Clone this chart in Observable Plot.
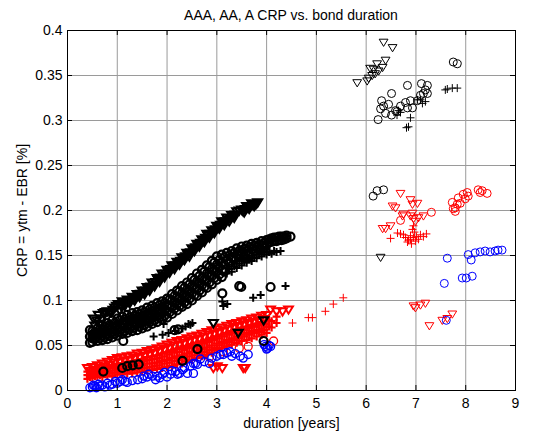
<!DOCTYPE html>
<html><head><meta charset="utf-8">
<script src="https://cdn.jsdelivr.net/npm/d3@7"></script>
<script src="https://cdn.jsdelivr.net/npm/@observablehq/plot@0.6"></script>
<style>
html,body{margin:0;padding:0;background:#fff;}
#wrap{position:relative;width:534px;height:434px;font-family:"Liberation Sans",Arial,sans-serif;color:#000;}
#title{position:absolute;left:48px;right:0;top:0;height:30px;line-height:30px;font-size:14px;text-align:center;white-space:nowrap;z-index:2;}
</style></head>
<body><div id="wrap"><div id="title"></div><div id="chart"></div></div>
<script>
const titleText = "AAA, AA, A CRP vs. bond duration";
const xLabel = "duration [years]";
const yLabel = "CRP = ytm - EBR [%]";
const xTicks = [0,1,2,3,4,5,6,7,8,9];
const yTicks = [0,0.05,0.1,0.15,0.2,0.25,0.3,0.35,0.4];
const yTickLabels = ["0","0.05","0.1","0.15","0.2","0.25","0.3","0.35","0.4"];

// AAA (black) triangles
const aaaTri = [[0.52,0.080],[0.55,0.072],[0.62,0.084],[0.66,0.074],[0.72,0.086],[0.80,0.088],[0.88,0.087],[0.95,0.092],[1.02,0.096],[1.05,0.089],[1.10,0.099],[1.15,0.094],[1.20,0.101],[1.25,0.097],[1.30,0.104],[1.35,0.100],[1.40,0.107],[1.45,0.104],[1.50,0.111],[1.55,0.107],[1.60,0.115],[1.65,0.111],[1.70,0.120],[1.75,0.116],[1.80,0.125],[1.85,0.121],[1.90,0.130],[1.95,0.126],[2.00,0.134],[2.05,0.131],[2.10,0.139],[2.15,0.135],[2.20,0.143],[2.25,0.140],[2.30,0.148],[2.35,0.145],[2.40,0.153],[2.45,0.149],[2.50,0.158],[2.55,0.155],[2.60,0.163],[2.65,0.160],[2.70,0.168],[2.75,0.165],[2.80,0.174],[2.85,0.170],[2.90,0.178],[2.95,0.175],[3.00,0.183],[3.05,0.180],[3.10,0.188],[3.15,0.184],[3.20,0.192],[3.25,0.188],[3.30,0.195],[3.35,0.192],[3.40,0.199],[3.50,0.201],[3.55,0.198],[3.60,0.205],[3.65,0.202],[3.70,0.208],[3.75,0.205],[3.82,0.209],
[0.59,0.078],[0.69,0.080],[0.76,0.087],[0.84,0.0875],[0.915,0.0895],[0.985,0.094],[1.075,0.094],[1.125,0.0965],[1.175,0.0975],[1.225,0.099],[1.275,0.1005],[1.325,0.102],[1.375,0.1035],[1.425,0.1055],[1.475,0.1075],[1.525,0.109],[1.575,0.111],[1.625,0.113],[1.675,0.1155],[1.725,0.118],[1.775,0.1205],[1.825,0.123],[1.875,0.1255],[1.925,0.128],[1.975,0.130],[2.025,0.1325],[2.075,0.135],[2.125,0.137],[2.175,0.139],[2.225,0.1415],[2.275,0.144],[2.325,0.1465],[2.375,0.149],[2.425,0.151],[2.475,0.1535],[2.525,0.1565],[2.575,0.159],[2.625,0.1615],[2.675,0.164],[2.725,0.1665],[2.775,0.1695],[2.825,0.172],[2.875,0.174],[2.925,0.1765],[2.975,0.179],[3.025,0.1815],[3.075,0.184],[3.125,0.186],[3.175,0.188],[3.225,0.190],[3.275,0.1915],[3.325,0.1935],[3.375,0.1955],[3.45,0.200],[3.525,0.1995],[3.575,0.2015],[3.625,0.2035],[3.675,0.205],[3.725,0.2065],[3.785,0.207],
[2.93,0.075],[3.43,0.064],[3.94,0.078],[6.29,0.148],
[6.35,0.387],[6.53,0.381],[6.39,0.367],[6.33,0.359],[6.22,0.363],[6.08,0.358],[6.18,0.352],[6.12,0.350],[6.02,0.344],[5.82,0.342],[6.25,0.355],[6.15,0.357],[6.05,0.347]];

// AAA (black) circles
const aaaCirc = [[0.45,0.053],[0.45,0.060],[0.45,0.067],
[0.5,0.054],[0.5,0.058],[0.5,0.062],[0.5,0.066],[0.6,0.055],[0.6,0.060],[0.6,0.064],[0.6,0.069],[0.7,0.056],[0.7,0.061],[0.7,0.067],[0.7,0.072],[0.8,0.057],[0.8,0.063],[0.8,0.069],[0.8,0.075],[0.9,0.059],[0.9,0.065],[0.9,0.071],[0.9,0.078],
[1.0,0.061],[1.0,0.067],[1.0,0.073],[1.0,0.080],[1.1,0.063],[1.1,0.069],[1.1,0.075],[1.1,0.082],[1.2,0.064],[1.2,0.070],[1.2,0.077],[1.2,0.084],[1.3,0.066],[1.3,0.072],[1.3,0.079],[1.3,0.086],[1.4,0.067],[1.4,0.074],[1.4,0.081],[1.4,0.087],
[1.5,0.069],[1.5,0.076],[1.5,0.083],[1.5,0.089],[1.6,0.071],[1.6,0.078],[1.6,0.085],[1.6,0.092],[1.7,0.074],[1.7,0.081],[1.7,0.088],[1.7,0.094],[1.8,0.076],[1.8,0.083],[1.8,0.090],[1.8,0.097],[1.9,0.079],[1.9,0.086],[1.9,0.093],[1.9,0.099],
[2.0,0.081],[2.0,0.088],[2.0,0.095],[2.0,0.102],[2.1,0.085],[2.1,0.093],[2.1,0.100],[2.1,0.107],[2.2,0.089],[2.2,0.096],[2.2,0.104],[2.2,0.111],[2.3,0.093],[2.3,0.100],[2.3,0.108],[2.3,0.116],[2.4,0.096],[2.4,0.104],[2.4,0.112],[2.4,0.120],
[2.5,0.100],[2.5,0.108],[2.5,0.116],[2.5,0.125],[2.6,0.105],[2.6,0.113],[2.6,0.121],[2.6,0.130],[2.7,0.109],[2.7,0.117],[2.7,0.125],[2.7,0.134],[2.8,0.114],[2.8,0.122],[2.8,0.130],[2.8,0.139],[2.9,0.118],[2.9,0.127],[2.9,0.135],[2.9,0.144],
[3.0,0.123],[3.0,0.132],[3.0,0.140],[3.0,0.149],[3.1,0.126],[3.1,0.134],[3.1,0.142],[3.1,0.151],[3.2,0.145],[3.2,0.153],[3.3,0.148],[3.3,0.155],[3.4,0.151],[3.4,0.158],[3.5,0.153],[3.5,0.160],[3.6,0.155],[3.6,0.161],[3.7,0.157],[3.7,0.163],[3.8,0.159],[3.8,0.164],[3.9,0.161],[3.9,0.166],
[4.0,0.162],[4.0,0.167],[4.1,0.165],[4.1,0.169],[4.2,0.166],[4.2,0.170],[4.3,0.167],[4.3,0.171],[4.4,0.169],[4.4,0.172],[4.48,0.171],
[0.55,0.057],[0.55,0.061],[0.55,0.065],[0.65,0.058],[0.65,0.063],[0.65,0.068],[0.75,0.059],[0.75,0.065],[0.75,0.071],[0.85,0.061],[0.85,0.067],[0.85,0.073],[0.95,0.063],[0.95,0.069],[0.95,0.075],
[1.05,0.065],[1.05,0.071],[1.05,0.078],[1.15,0.066],[1.15,0.073],[1.15,0.079],[1.25,0.068],[1.25,0.074],[1.25,0.081],[1.35,0.070],[1.35,0.076],[1.35,0.083],[1.45,0.071],[1.45,0.078],[1.45,0.085],
[1.55,0.073],[1.55,0.080],[1.55,0.087],[1.65,0.076],[1.65,0.083],[1.65,0.090],[1.75,0.078],[1.75,0.085],[1.75,0.092],[1.85,0.081],[1.85,0.088],[1.85,0.095],[1.95,0.083],[1.95,0.090],[1.95,0.097],
[2.05,0.087],[2.05,0.094],[2.05,0.101],[2.15,0.091],[2.15,0.098],[2.15,0.105],[2.25,0.094],[2.25,0.102],[2.25,0.110],[2.35,0.098],[2.35,0.106],[2.35,0.114],[2.45,0.102],[2.45,0.110],[2.45,0.118],
[2.55,0.106],[2.55,0.114],[2.55,0.123],[2.65,0.111],[2.65,0.119],[2.65,0.127],[2.75,0.115],[2.75,0.123],[2.75,0.132],[2.85,0.120],[2.85,0.128],[2.85,0.137],[2.95,0.125],[2.95,0.133],[2.95,0.142],
[3.05,0.129],[3.05,0.137],[3.05,0.145],[3.15,0.132],[3.15,0.140],[3.15,0.148],[3.25,0.142],[3.25,0.150],[3.35,0.146],[3.35,0.153],[3.45,0.149],[3.45,0.155],[3.55,0.150],[3.55,0.157],[3.65,0.152],[3.65,0.159],[3.75,0.155],[3.75,0.161],[3.85,0.157],[3.85,0.162],[3.95,0.159],[3.95,0.164],
[4.05,0.165],[4.05,0.168],[4.15,0.166],[4.15,0.170],[4.25,0.167],[4.25,0.171],[4.35,0.168],[4.35,0.171],
[1.12,0.055],[2.15,0.067],[2.22,0.068],[3.11,0.108],[3.45,0.116],[3.49,0.115],[4.08,0.115],[0.72,0.021],[1.10,0.025],[1.20,0.027],[1.31,0.028],[1.43,0.029],[2.31,0.033],[2.61,0.046],[3.94,0.055],
[6.14,0.216],[6.22,0.222],[6.35,0.223],
[7.75,0.365],[7.83,0.363],[6.83,0.339],[7.11,0.341],[7.23,0.339],[7.23,0.330],[6.51,0.330],[6.31,0.322],[6.35,0.316],[6.29,0.313],[6.24,0.301],[6.39,0.308],[6.51,0.306],[6.59,0.311],[6.69,0.316],[6.79,0.320],[6.89,0.322],[6.93,0.314],[6.83,0.314],[7.09,0.328],[7.15,0.330],[6.45,0.318],[6.62,0.310],[7.03,0.322],[7.19,0.334]];

// AAA (black) pluses
const aaaPlus = [[3.2,0.130],[3.2,0.137],[3.3,0.132],[3.3,0.140],[3.4,0.136],[3.4,0.144],[3.5,0.139],[3.5,0.146],[3.6,0.142],[3.6,0.148],[3.7,0.144],[3.7,0.150],[3.8,0.147],[3.8,0.153],[3.9,0.149],[3.9,0.155],[4.0,0.151],[4.0,0.157],[4.1,0.152],[4.2,0.154],[4.28,0.155],
[3.25,0.135],[3.35,0.138],[3.45,0.141],[3.55,0.144],[3.65,0.146],[3.75,0.148],[3.85,0.151],[3.95,0.153],[4.05,0.154],[4.15,0.155],
[1.73,0.060],[1.91,0.062],[2.03,0.064],[2.17,0.066],[2.31,0.069],[2.43,0.074],[2.51,0.075],[1.93,0.074],[2.37,0.071],[2.47,0.073],[3.11,0.099],[3.21,0.096],[3.13,0.094],[3.73,0.103],[3.88,0.106],[4.38,0.116],
[6.65,0.311],[6.69,0.309],[6.62,0.306],[6.89,0.303],[6.81,0.292],[6.85,0.293],[7.09,0.323],[7.13,0.319],[7.19,0.321],[7.03,0.323],[7.59,0.334],[7.63,0.335],[7.73,0.336],[7.83,0.336]];

// AA (red) pluses
const aaPlus = [[0.4,0.013],[0.4,0.017],[0.4,0.021],[0.45,0.015],[0.45,0.019],[0.5,0.014],[0.5,0.018],[0.5,0.022],[0.55,0.016],[0.55,0.021],[0.6,0.015],[0.6,0.019],[0.6,0.024],[0.65,0.017],[0.65,0.022],[0.7,0.015],[0.7,0.020],[0.7,0.025],[0.75,0.018],[0.75,0.023],[0.8,0.016],[0.8,0.021],[0.8,0.027],[0.85,0.019],[0.85,0.025],[0.9,0.016],[0.9,0.022],[0.9,0.028],[0.95,0.020],[0.95,0.026],
[1.0,0.018],[1.0,0.024],[1.0,0.030],[1.05,0.021],[1.05,0.027],[1.1,0.018],[1.1,0.024],[1.1,0.030],[1.15,0.022],[1.15,0.028],[1.2,0.019],[1.2,0.025],[1.2,0.032],[1.25,0.022],[1.25,0.029],[1.3,0.019],[1.3,0.026],[1.3,0.033],[1.35,0.023],[1.35,0.030],[1.4,0.020],[1.4,0.027],[1.4,0.034],[1.45,0.024],[1.45,0.031],
[1.5,0.021],[1.5,0.028],[1.5,0.035],[1.55,0.025],[1.55,0.033],[1.6,0.022],[1.6,0.030],[1.6,0.037],[1.65,0.026],[1.65,0.034],[1.7,0.023],[1.7,0.030],[1.7,0.038],[1.75,0.027],[1.75,0.035],[1.8,0.024],[1.8,0.031],[1.8,0.039],[1.85,0.028],[1.85,0.036],[1.9,0.025],[1.9,0.033],[1.9,0.041],[1.95,0.030],[1.95,0.038],
[2.0,0.026],[2.0,0.034],[2.0,0.042],[2.05,0.031],[2.05,0.040],[2.1,0.027],[2.1,0.036],[2.1,0.044],[2.15,0.033],[2.15,0.042],[2.2,0.029],[2.2,0.038],[2.2,0.046],[2.25,0.034],[2.25,0.043],[2.3,0.030],[2.3,0.039],[2.3,0.047],[2.35,0.036],[2.35,0.045],[2.4,0.032],[2.4,0.041],[2.4,0.049],[2.45,0.038],[2.45,0.047],
[2.5,0.034],[2.5,0.043],[2.5,0.051],[2.55,0.039],[2.55,0.048],[2.6,0.036],[2.6,0.044],[2.6,0.052],[2.65,0.041],[2.65,0.050],[2.7,0.038],[2.7,0.046],[2.7,0.054],[2.75,0.043],[2.75,0.052],[2.8,0.040],[2.8,0.048],[2.8,0.056],[2.85,0.045],[2.85,0.054],[2.9,0.042],[2.9,0.050],[2.9,0.058],[2.95,0.047],[2.95,0.056],
[3.0,0.045],[3.0,0.052],[3.0,0.060],[3.05,0.050],[3.05,0.058],[3.1,0.047],[3.1,0.054],[3.1,0.062],[3.15,0.052],[3.15,0.060],[3.2,0.049],[3.2,0.056],[3.2,0.064],[3.25,0.054],[3.25,0.062],[3.3,0.051],[3.3,0.058],[3.3,0.066],[3.35,0.056],[3.35,0.064],[3.4,0.053],[3.4,0.060],[3.4,0.068],[3.45,0.058],[3.45,0.066],
[3.5,0.055],[3.5,0.062],[3.5,0.070],[3.55,0.060],[3.55,0.067],[3.6,0.056],[3.6,0.064],[3.6,0.071],[3.65,0.062],[3.65,0.069],[3.7,0.058],[3.7,0.066],[3.7,0.073],[3.75,0.064],[3.75,0.071],[3.8,0.060],[3.8,0.067],[3.8,0.074],[3.85,0.065],[3.85,0.072],[3.9,0.062],[3.9,0.069],[3.9,0.076],[3.95,0.067],[3.95,0.074],
[4.0,0.064],[4.0,0.071],[4.0,0.078],[4.05,0.071],[4.05,0.078],[4.1,0.070],[4.1,0.077],[4.2,0.075],[4.2,0.082],
[4.52,0.075],[4.84,0.081],[4.92,0.081],[5.18,0.088],[5.34,0.096],[5.54,0.103],
[6.49,0.169],[6.63,0.175],[6.69,0.174],[6.75,0.173],[6.79,0.170],[6.85,0.167],[6.89,0.172],[6.93,0.179],[6.95,0.183],[6.97,0.176],[7.01,0.171],[7.05,0.168],[7.09,0.173],[7.15,0.171],[7.21,0.174],[6.83,0.165],[6.91,0.163],[6.99,0.166],[6.89,0.168],[6.95,0.170]];

// AA (red) triangles
const aaTri = [[0.4,0.025],[0.5,0.026],[0.6,0.028],[0.7,0.030],[0.8,0.032],[0.9,0.034],[1.0,0.036],[1.1,0.037],[1.2,0.038],[1.3,0.039],[1.4,0.041],[1.5,0.042],[1.6,0.044],[1.7,0.045],[1.8,0.047],[1.9,0.049],[2.0,0.051],[2.1,0.053],[2.2,0.055],[2.3,0.056],[2.4,0.058],[2.5,0.060],[2.6,0.061],[2.7,0.063],[2.8,0.065],[2.9,0.067],[3.0,0.068],[3.1,0.070],[3.2,0.072],[3.3,0.074],[3.4,0.075],[3.5,0.077],[3.6,0.078],[3.7,0.080],[3.8,0.081],[3.9,0.083],[4.0,0.084],[4.08,0.090],[4.2,0.088],[4.32,0.088],[4.44,0.090],
[0.45,0.022],[0.55,0.023],[0.65,0.025],[0.75,0.027],[0.85,0.029],[0.95,0.031],[1.05,0.0325],[1.15,0.0335],[1.25,0.0345],[1.35,0.036],[1.45,0.0375],[1.55,0.039],[1.65,0.0405],[1.75,0.042],[1.85,0.044],[1.95,0.046],[2.05,0.048],[2.15,0.050],[2.25,0.0515],[2.35,0.053],[2.45,0.055],[2.55,0.0565],[2.65,0.058],[2.75,0.060],[2.85,0.062],[2.95,0.0635],[3.05,0.065],[3.15,0.067],[3.25,0.069],[3.35,0.0705],[3.45,0.072],[3.55,0.0735],[3.65,0.075],[3.75,0.0765],[3.85,0.078],[3.95,0.0795],
[2.93,0.025],[3.01,0.027],[3.11,0.025],[3.53,0.025],[3.57,0.025],
[6.69,0.219],[6.89,0.212],[7.03,0.208],[6.93,0.207],[6.53,0.205],[6.59,0.203],[6.73,0.194],[6.75,0.196],[6.93,0.197],[6.89,0.194],[6.95,0.191],[6.99,0.188],[7.05,0.192],[7.15,0.194],[6.33,0.180],[6.39,0.180],[6.49,0.183],
[6.99,0.092],[7.09,0.095],[7.19,0.097],[6.95,0.094],[7.27,0.072],[7.53,0.078],[7.63,0.080],[7.73,0.085]];

// AA (red) circles
const aaCirc = [[3.13,0.043],[3.63,0.049],[4.14,0.055],[3.45,0.047],[2.85,0.037],
[7.31,0.198],[6.69,0.189],[7.73,0.209],[7.79,0.203],[7.75,0.202],[7.85,0.214],[7.95,0.218],[8.03,0.220],[8.05,0.216],[7.99,0.213],[7.89,0.208],[7.83,0.207],[8.25,0.223],[8.33,0.222],[8.43,0.219],[8.29,0.220],[7.79,0.199]];

// A (blue) circles
const aCirc = [[0.45,0.003],[0.50,0.004],[0.52,0.006],[0.55,0.005],[0.58,0.003],[0.62,0.007],[0.65,0.005],[0.70,0.006],[0.75,0.004],[0.80,0.008],[0.85,0.006],[0.90,0.007],[0.96,0.010],[1.00,0.008],[1.06,0.010],[1.10,0.012],[1.16,0.010],[1.20,0.009],[1.30,0.011],[1.41,0.012],[1.50,0.013],[1.53,0.016],[1.60,0.015],[1.63,0.018],[1.71,0.016],[1.77,0.012],[1.81,0.016],[1.85,0.014],[1.91,0.018],[1.95,0.020],[2.00,0.015],[2.07,0.018],[2.10,0.022],[2.17,0.021],[2.21,0.018],[2.25,0.019],[2.31,0.023],[2.35,0.025],[2.41,0.019],[2.47,0.027],[2.53,0.019],[2.53,0.030],[2.57,0.030],[2.61,0.029],[2.67,0.035],[2.75,0.032],[2.85,0.030],[2.90,0.036],[3.00,0.038],[3.07,0.040],[3.13,0.040],[3.20,0.042],[3.27,0.043],[3.30,0.038],[3.37,0.041],[3.47,0.038],[3.53,0.036],[3.63,0.040],[3.95,0.051],[3.98,0.049],[4.00,0.046],[4.02,0.047],[4.05,0.050],[4.08,0.049],
[7.61,0.078],[7.63,0.147],[7.57,0.119],[8.05,0.151],[8.11,0.145],[8.19,0.153],[8.29,0.154],[8.39,0.155],[8.49,0.154],[8.59,0.155],[8.65,0.156],[8.73,0.156],[7.93,0.125],[8.01,0.125],[8.13,0.127]];

document.getElementById("title").textContent = titleText;

const triDown = {draw(ctx, size) {const s = Math.sqrt(size / Math.PI); ctx.moveTo(-1.1*s, -0.75*s); ctx.lineTo(1.1*s, -0.75*s); ctx.lineTo(0, 1.05*s); ctx.closePath();}};
const plusSym = {draw(ctx, size) {const s = Math.sqrt(size / Math.PI); ctx.moveTo(-s, 0); ctx.lineTo(s, 0); ctx.moveTo(0, -s); ctx.lineTo(0, s);}};

// markers in the crowded short-duration bands are drawn heavier so they merge as in the original
const pts = (data, symbol, stroke, heavy) => Plot.dot(data, {x: d => d[0], y: d => d[1], symbol, stroke, fill: "none", r: 4, strokeWidth: d => d[0] < 4.5 ? heavy : 1});

const gridStyle = {stroke: "#9a9a9a", strokeOpacity: 1, strokeWidth: 1};
const chart = Plot.plot({
  width: 534, height: 434,
  marginTop: 30, marginRight: 19, marginBottom: 44, marginLeft: 67,
  style: {fontFamily: "'Liberation Sans', Arial, sans-serif", fontSize: "14px", background: "#fff", color: "#000"},
  x: {domain: [0, 9]},
  y: {domain: [0, 0.4]},
  marks: [
    Plot.gridX(xTicks, gridStyle),
    Plot.gridY(yTicks, gridStyle),
    pts(aaPlus, plusSym, "#ff0000", 2.2),
    pts(aaTri, triDown, "#ff0000", 2),
    pts(aaCirc, "circle", "#ff0000", 1.3),
    pts(aCirc, "circle", "#0000ff", 1.4),
    pts(aaaPlus, plusSym, "#000", 2),
    pts(aaaTri, triDown, "#000", 2.2),
    pts(aaaCirc, "circle", "#000", 2.2),
    Plot.frame({stroke: "#000"}),
    Plot.ruleX(xTicks, {x: d => d, insetTop: 355, stroke: "#000"}),
    Plot.ruleX(xTicks, {x: d => d, insetBottom: 355, stroke: "#000"}),
    Plot.ruleY(yTicks, {y: d => d, insetRight: 443, stroke: "#000"}),
    Plot.ruleY(yTicks, {y: d => d, insetLeft: 443, stroke: "#000"}),
    Plot.axisX(xTicks, {tickSize: 0, tickPadding: 8, label: null}),
    Plot.axisY(yTicks, {tickSize: 0, tickPadding: 5, label: null, tickFormat: d => yTickLabels[yTicks.indexOf(d)]}),
    Plot.text([xLabel], {text: d => d, frameAnchor: "bottom", dy: 33, lineAnchor: "middle", textAnchor: "middle"}),
    Plot.text([yLabel], {text: d => d, frameAnchor: "left", dx: -45, rotate: -90, lineAnchor: "middle", textAnchor: "middle"})
  ]
});
document.getElementById("chart").appendChild(chart);
</script>
</body></html>
